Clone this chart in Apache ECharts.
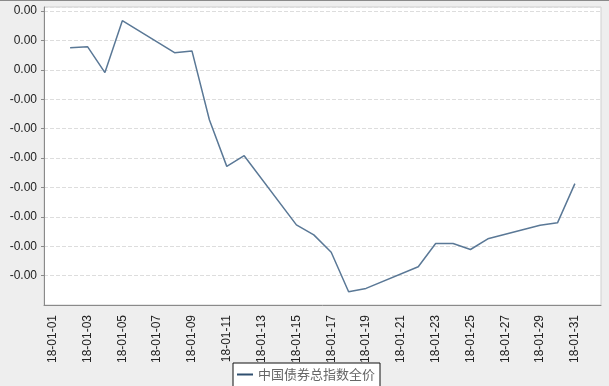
<!DOCTYPE html>
<html>
<head>
<meta charset="utf-8">
<script src="https://cdn.jsdelivr.net/npm/echarts@6/dist/echarts.min.js"></script>
<style>html,body{margin:0;padding:0;background:#eeeeee;}#c{width:609px;height:386px;}</style>
</head>
<body>
<div id="c"></div>
<script>
var categories = ['18-01-01','18-01-02','18-01-03','18-01-04','18-01-05','18-01-06','18-01-07','18-01-08','18-01-09','18-01-10',
  '18-01-11','18-01-12','18-01-13','18-01-14','18-01-15','18-01-16','18-01-17','18-01-18','18-01-19','18-01-20',
  '18-01-21','18-01-22','18-01-23','18-01-24','18-01-25','18-01-26','18-01-27','18-01-28','18-01-29','18-01-30',
  '18-01-31','18-02-01'];
var seriesName = '中国债券总指数全价';
var values = [null, 0.000757, 0.000791, -0.000092, 0.001674, null, null, 0.000587, 0.000645, -0.001698,
  -0.003283, -0.002920, null, null, -0.005273, -0.005613, -0.006204, -0.007548, -0.007436, null,
  null, -0.006700, -0.005908, -0.005908, -0.006112, -0.005749, null, null, -0.005287, -0.005205,
  -0.003871, null];
var yMin = -0.008, yMax = 0.00214, yInterval = 0.001;

function fmt(v) {
  var t = Math.trunc(Math.round(v * 1e6) / 1e4) / 100;
  return (v < -1e-9 ? '-' : '') + Math.abs(t).toFixed(2);
}

var chart = echarts.init(document.getElementById('c'));
chart.setOption({
  backgroundColor: '#eeeeee',
  animation: false,
  graphic: [{type: 'rect', shape: {x: 0, y: 0, width: 609, height: 1}, style: {fill: '#8a8a8a'}}],
  grid: {left: 44, top: 7, right: 8, bottom: 81, show: true, backgroundColor: '#ffffff', borderColor: '#cfcfcf', borderWidth: 1},
  legend: {
    data: [seriesName], left: 233, top: 363, orient: 'horizontal',
    backgroundColor: '#ffffff', borderColor: '#111111', borderWidth: 1,
    padding: [5, 5, 10, 4], itemWidth: 16, itemHeight: 2, itemGap: 4, icon: 'rect',
    textStyle: {color: '#666666', fontSize: 13, fontFamily: 'Noto Sans CJK SC'}
  },
  xAxis: {
    type: 'category', data: categories, boundaryGap: true,
    axisLine: {onZero: false, lineStyle: {color: '#8a8a8a'}},
    axisTick: {interval: 1, alignWithLabel: true, length: 3, lineStyle: {color: '#8a8a8a'}},
    axisLabel: {interval: 1, rotate: 90, margin: 10, color: '#222222', fontSize: 12, fontFamily: 'Liberation Sans'},
    splitLine: {show: false}
  },
  yAxis: {
    type: 'value', min: yMin, max: yMax, interval: yInterval,
    axisLine: {show: true, lineStyle: {color: '#8a8a8a'}},
    axisTick: {show: true, length: 3, lineStyle: {color: '#8a8a8a'}},
    axisLabel: {showMinLabel: false, showMaxLabel: false, margin: 7, color: '#222222', fontSize: 12, fontFamily: 'Liberation Sans',
      formatter: fmt},
    splitLine: {show: true, lineStyle: {color: '#dddddd', type: 'dashed'}}
  },
  series: [{
    name: seriesName, type: 'line', data: values, connectNulls: true,
    showSymbol: false, symbol: 'none',
    lineStyle: {color: '#5a7896', width: 1.5}, itemStyle: {color: '#2f4f6f'}
  }]
});
</script>
</body>
</html>
